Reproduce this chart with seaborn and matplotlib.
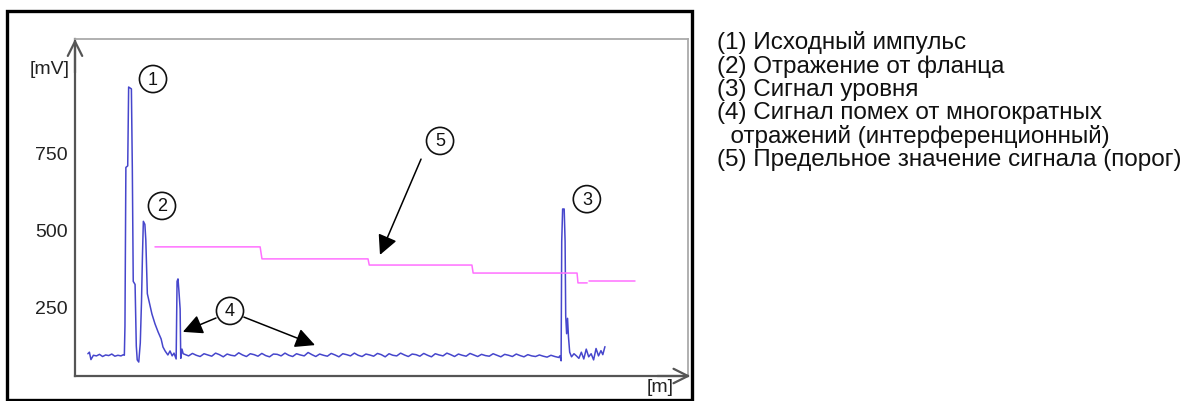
import numpy as np
import pandas as pd
import matplotlib
matplotlib.use('Agg')
import matplotlib.pyplot as plt
import seaborn as sns
from matplotlib.patches import Rectangle

# Эхограмма: сигнал (мВ) по расстоянию (м)
start_x = [0.42, 0.47, 0.52, 0.60, 0.70, 0.80, 0.90, 1.00, 1.10, 1.20, 1.30, 1.40, 1.50, 1.58]
start_mv = [95, 100, 76, 90, 88, 93, 86, 91, 89, 94, 87, 90, 88, 92]

pulse_x = [1.61, 1.63, 1.66, 1.72, 1.75, 1.84, 1.87, 1.90, 1.96, 2.00, 2.03, 2.08, 2.13,
           2.17, 2.20, 2.23, 2.28, 2.31, 2.36, 2.51, 2.61, 2.71, 2.81, 2.87, 2.94, 3.03,
           3.10, 3.17, 3.23, 3.30, 3.33, 3.36, 3.39, 3.43, 3.45, 3.49, 3.53]
pulse_mv = [90, 185, 700, 705, 961, 955, 700, 330, 320, 120, 75, 68, 130,
            265, 410, 525, 515, 465, 290, 224, 192, 166, 143, 117, 104, 91,
            104, 88, 97, 78, 330, 338, 300, 240, 80, 110, 95]

# шум между импульсами (равный шаг по расстоянию)
noise_start, noise_end = 3.58, 15.78
noise_mv = [93, 88, 96, 90, 86, 95, 91, 87, 97, 92, 85, 94, 90, 88, 98, 91, 86, 95, 92, 87,
            96, 89, 85, 94, 93, 88, 97, 90, 86, 95, 91, 88, 99, 92, 86, 94, 90, 87, 96, 91,
            85, 95, 92, 88, 97, 90, 86, 94, 91, 87, 96, 92, 85, 95, 90, 88, 97, 91, 86, 94,
            92, 87, 96, 90, 85, 95, 91, 88, 97, 92, 86, 94, 90, 87, 96, 91, 86, 93, 89, 87,
            95, 90, 85, 93, 90, 86, 94, 89, 85, 92, 88, 86, 91, 87, 84, 90, 86, 83]

level_x = [15.82, 15.86, 15.88, 15.91, 15.96, 15.99, 16.01, 16.04, 16.07, 16.10, 16.14,
           16.20, 16.28, 16.36, 16.44, 16.52, 16.60, 16.68, 16.76, 16.84, 16.92, 17.00,
           17.08, 17.16, 17.22, 17.29]
level_mv = [88, 72, 460, 565, 565, 460, 218, 160, 210, 150, 100,
            85, 95, 88, 80, 100, 78, 110, 85, 95, 75, 112,
            88, 105, 92, 118]

# порог (две части, между ними разрыв)
thr_x = [2.61, 6.04, 6.10, 9.56, 9.60, 12.95, 12.99, 16.38, 16.41, 16.71, 16.77, 18.27]
thr_mv = [442, 442, 403, 403, 383, 383, 357, 357, 325, 325, 331, 331]
thr_part = [0, 0, 0, 0, 0, 0, 0, 0, 0, 0, 1, 1]

y_ticks = [250, 500, 750]

legend_lines = [
    "(1) Исходный импульс",
    "(2) Отражение от фланца",
    "(3) Сигнал уровня",
    "(4) Сигнал помех от многократных",
    "  отражений (интерференционный)",
    "(5) Предельное значение сигнала (порог)",
]

noise_x = np.linspace(noise_start, noise_end, len(noise_mv))
signal = pd.DataFrame({
    'x': np.concatenate([start_x, pulse_x, noise_x, level_x]),
    'mv': np.concatenate([start_mv, pulse_mv, noise_mv, level_mv]),
})
threshold = pd.DataFrame({'x': thr_x, 'mv': thr_mv, 'part': thr_part})

sns.set_theme(style='white')
plt.rcParams['font.family'] = ['Liberation Sans', 'DejaVu Sans']

W, H = 1193, 402
fig = plt.figure(figsize=(W / 100, H / 100), dpi=100)
ax = fig.add_axes([75 / W, 1 - 377 / H, 613 / W, 337 / H])

sns.lineplot(data=signal, x='x', y='mv', ax=ax, sort=False, estimator=None,
             color='#4646cc', lw=1.1)
sns.lineplot(data=threshold, x='x', y='mv', units='part', ax=ax, sort=False,
             estimator=None, color='#ff70ff', lw=1.1)

ax.set_xlim(0, 20)
ax.set_ylim(22.7, 1117)
ax.set_xticks([])
ax.set_yticks(y_ticks)
ax.set_yticklabels([str(t) for t in y_ticks])
ax.tick_params(axis='y', length=0, pad=5, labelsize=14, labelcolor='#222222')
ax.set_xlabel('')
ax.set_ylabel('')

for side in ['left', 'bottom']:
    ax.spines[side].set_color('#555555')
    ax.spines[side].set_linewidth(1.6)
for side in ['top', 'right']:
    ax.spines[side].set_color('#aaaaaa')
    ax.spines[side].set_linewidth(1.3)

# стрелки осей
ax.annotate('', xy=(0, 1.0), xytext=(0, 0.9), xycoords='axes fraction',
            arrowprops=dict(arrowstyle='->', color='#555555', lw=1.6, mutation_scale=26,
                            shrinkA=0, shrinkB=0), annotation_clip=False)
ax.annotate('', xy=(1.004, 0), xytext=(0.95, 0), xycoords='axes fraction',
            arrowprops=dict(arrowstyle='->', color='#555555', lw=1.6, mutation_scale=26,
                            shrinkA=0, shrinkB=0), annotation_clip=False)

fig.text(70 / W, 1 - 70 / H, '[mV]', ha='right', va='center', fontsize=14, color='#222222')
fig.text(660 / W, 1 - 388 / H, '[m]', ha='center', va='center', fontsize=14, color='#222222')

# номера в кружках
marks = {'1': (2.545, 987), '2': (2.838, 575), '3': (16.70, 597),
         '4': (5.057, 234), '5': (11.91, 786)}
for label, (mx, my) in marks.items():
    ax.text(mx, my, label, ha='center', va='center', fontsize=13, color='#111111',
            bbox=dict(boxstyle='circle,pad=0.28', fc='white', ec='#111111', lw=1.2))

arrows = [((4.60, 211), (3.52, 166)),
          ((5.51, 214), (7.83, 123)),
          ((11.29, 727), (9.95, 416))]
for start, tip in arrows:
    ax.annotate('', xy=tip, xytext=start,
                arrowprops=dict(arrowstyle='-|>', color='black', lw=1.1,
                                mutation_scale=30, shrinkA=0, shrinkB=0))

# внешняя рамка
fig.patches.append(Rectangle((7 / W, 1 - 401 / H), 685 / W, 389 / H,
                             transform=fig.transFigure, fill=False,
                             ec='black', lw=2.4))

line_y = [43, 67, 90, 113, 137, 160]
for text, yy in zip(legend_lines, line_y):
    fig.text(717 / W, 1 - yy / H, text, ha='left', va='center', fontsize=17.5,
             color='#111111')

fig.savefig('out.png', dpi=100)
